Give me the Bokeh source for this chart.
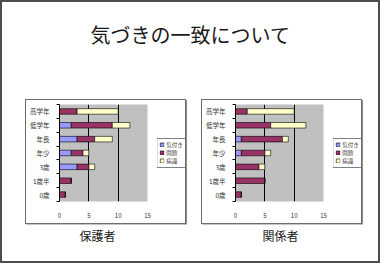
from bokeh.plotting import figure
from bokeh.models import (Range1d, FixedTicker, Legend, LegendItem, Label, Spacer, ColumnDataSource)
from bokeh.layouts import column, row
from bokeh.embed import file_html
from bokeh.resources import INLINE

FONT = "Noto Sans CJK JP"

title_text = "気づきの一致について"
categories = ["0歳", "1歳半", "3歳", "年少", "年長", "低学年", "高学年"]
series = ["気付き", "問題", "病識"]
colors = ["#9999FF", "#993366", "#FFFFCC"]

# 保護者
parent_kizuki = [0, 0, 3, 2, 3, 2, 0]
parent_mondai = [1, 2, 2, 2, 3, 7, 3]
parent_byoshiki = [0, 0, 1, 1, 3, 3, 7]

# 関係者
staff_kizuki = [0, 0, 0, 1, 1, 0, 0]
staff_mondai = [1, 5, 4, 4, 7, 6, 2]
staff_byoshiki = [0, 0, 1, 1, 1, 6, 8]

x_ticks = [0, 5, 10, 15]
subtitles = ["保護者", "関係者"]


def make_chart(kizuki, mondai, byoshiki):
    ypos = list(range(1, len(categories) + 1))
    src = ColumnDataSource(dict(y=ypos, **{series[0]: kizuki, series[1]: mondai, series[2]: byoshiki}))
    p = figure(width=128, height=123, output_backend="svg", toolbar_location=None,
               x_range=Range1d(0, 15), y_range=Range1d(0.5, len(categories) + 0.5),
               min_border_left=30, min_border_right=7, min_border_top=4, min_border_bottom=22,
               background_fill_color="#C0C0C0", border_fill_color="white",
               outline_line_color=None)
    p.hbar_stack(series, y="y", height=0.4, source=src, color=colors,
                 line_color="black", line_width=0.6)
    p.xaxis.ticker = FixedTicker(ticks=x_ticks)
    p.xaxis.axis_line_color = None
    p.xaxis.major_tick_line_color = None
    p.xaxis.minor_tick_line_color = None
    p.xaxis.major_label_text_font_size = "6px"
    p.xaxis.major_label_text_color = "#333333"
    p.xaxis.major_label_standoff = 5
    p.xaxis.major_label_text_font = FONT

    p.yaxis.ticker = FixedTicker(ticks=ypos, minor_ticks=[v - 0.5 for v in ypos] + [ypos[-1] + 0.5])
    p.yaxis.major_label_overrides = {v: c for v, c in zip(ypos, categories)}
    p.yaxis.major_tick_line_color = None
    p.yaxis.minor_tick_line_color = "black"
    p.yaxis.minor_tick_out = 3
    p.yaxis.minor_tick_in = 0
    p.yaxis.axis_line_color = "black"
    p.yaxis.major_label_text_font_size = "6.5px"
    p.yaxis.major_label_text_color = "#333333"
    p.yaxis.major_label_standoff = 4
    p.yaxis.major_label_text_font = FONT

    p.xgrid.ticker = FixedTicker(ticks=x_ticks)
    p.xgrid.grid_line_color = "black"
    p.xgrid.grid_line_width = 1
    p.ygrid.grid_line_color = None

    # legend lives in its own small figure at the right of the chart box;
    # its renderers share the data but are hidden (only their legend swatches show)
    lp = figure(width=31, height=123, output_backend="svg", toolbar_location=None,
                x_range=Range1d(0, 1), y_range=Range1d(-20, -10),
                min_border_left=3, min_border_right=0, min_border_top=0, min_border_bottom=15,
                outline_line_color=None, background_fill_color="white", border_fill_color="white")
    lp.axis.visible = False
    lp.grid.visible = False
    rs = lp.hbar_stack(series, y="y", height=0.4, source=src, color=colors,
                       line_color="black", line_width=0.6)
    for r in rs:
        r.visible = False
    items = [LegendItem(label=s, renderers=[r]) for s, r in zip(series, rs)]
    legend = Legend(items=items, location="center", click_policy="none",
                    label_text_font_size="5.5px", label_text_font=FONT, label_text_color="#333333",
                    glyph_width=5, glyph_height=5, label_height=5, label_width=8,
                    label_standoff=2, padding=2, spacing=0, margin=0,
                    border_line_color="black", border_line_width=1,
                    background_fill_color="white", background_fill_alpha=1,
                    inactive_fill_alpha=0)
    lp.add_layout(legend)

    box = row(p, lp, width=161, height=125,
              styles={"border": "1px solid #6e6e6e", "box-sizing": "border-box",
                      "box-shadow": "1px 1px 0 #8a8a8a"})
    return box


def blank(width, height):
    p = figure(width=width, height=height, output_backend="svg", toolbar_location=None,
               x_range=Range1d(0, width), y_range=Range1d(height, 0),
               min_border=0, outline_line_color=None)
    p.axis.visible = False
    p.grid.visible = False
    return p


top = blank(376, 97)
top.add_layout(Label(x=188, y=32, text=title_text, text_font=FONT, text_font_size="20px",
                     text_color="#1a1a1a", text_align="center", text_baseline="middle"))

chart1 = make_chart(parent_kizuki, parent_mondai, parent_byoshiki)
chart2 = make_chart(staff_kizuki, staff_mondai, staff_byoshiki)

bottom = blank(376, 37)
bottom.add_layout(Label(x=95, y=11, text=subtitles[0], text_font=FONT, text_font_size="12px",
                        text_color="#1a1a1a", text_align="center", text_baseline="middle"))
bottom.add_layout(Label(x=278, y=11, text=subtitles[1], text_font=FONT, text_font_size="12px",
                        text_color="#1a1a1a", text_align="center", text_baseline="middle"))

mid = row(Spacer(width=23, height=125), chart1, Spacer(width=15, height=125), chart2,
          Spacer(width=16, height=125))

p = column(top, mid, bottom, width=380, height=263,
           styles={"border": "2px solid #4d4d4d", "box-sizing": "border-box", "background": "white"})

open("out.html", "w").write(file_html(p, INLINE))
